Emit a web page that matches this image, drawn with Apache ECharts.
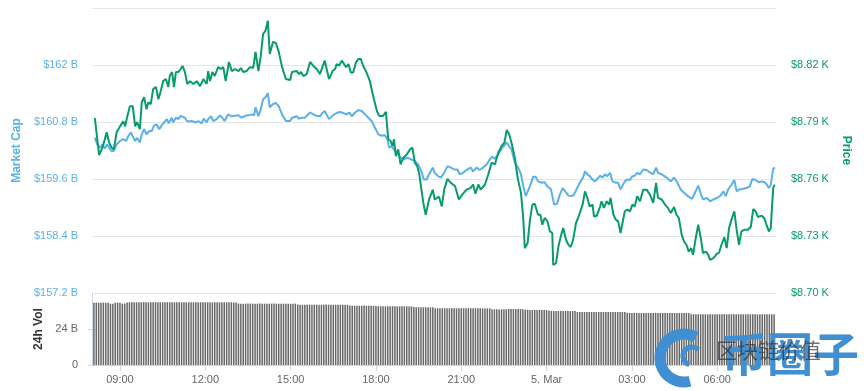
<!DOCTYPE html>
<html>
<head>
<meta charset="utf-8">
<script src="https://cdn.jsdelivr.net/npm/echarts@6/dist/echarts.min.js"></script>
<style>
html,body{margin:0;padding:0;background:#fff;}
#chart{width:864px;height:391px;}
</style>
</head>
<body>
<div id="chart"></div>
<script>
// Time values are minutes since 4 Mar 00:00
var xTickMinutes = [540, 720, 900, 1080, 1260, 1440, 1620, 1800];

var priceTime = [487,496,504,512,517,522,527,533,540,547,551,555,561,567,572,576,582,586,591,596,600,605,610,616,621,626,631,637,642,645,650,654,658,663,668,672,677,682,688,695,702,709,716,723,726,730,735,740,747,753,758,763,770,776,783,790,795,800,807,814,821,826,832,837,842,847,852,856,863,869,875,882,890,899,903,913,918,922,927,934,941,948,955,962,967,972,981,989,994,997,1002,1008,1011,1017,1022,1027,1032,1038,1043,1048,1053,1060,1067,1074,1082,1087,1095,1101,1106,1111,1115,1118,1122,1127,1132,1138,1145,1152,1157,1162,1167,1171,1176,1180,1185,1192,1200,1204,1213,1219,1224,1231,1238,1247,1255,1262,1271,1280,1285,1290,1296,1301,1310,1317,1324,1331,1338,1345,1351,1356,1361,1366,1373,1379,1386,1391,1394,1400,1405,1410,1415,1422,1427,1431,1436,1442,1447,1452,1454,1460,1465,1470,1475,1481,1486,1491,1496,1502,1509,1516,1521,1526,1531,1537,1540,1546,1553,1556,1561,1567,1572,1575,1581,1586,1591,1596,1600,1605,1610,1616,1621,1626,1631,1637,1644,1651,1658,1665,1671,1675,1683,1690,1696,1702,1709,1714,1719,1725,1730,1735,1740,1745,1749,1754,1760,1766,1770,1776,1781,1785,1792,1799,1804,1809,1815,1820,1825,1830,1836,1841,1846,1851,1858,1865,1871,1876,1881,1886,1894,1899,1904,1909,1913,1918,1921];
var price = [8792.0,8772.6,8777.2,8784.6,8779.3,8776.6,8775.6,8784.6,8787.7,8790.4,8787.7,8792.5,8798.3,8798.3,8787.7,8789.9,8786.2,8800.4,8803.1,8796.7,8800.4,8799.4,8807.3,8808.4,8802.0,8806.2,8811.5,8812.6,8808.4,8814.2,8816.3,8808.4,8816.3,8816.3,8817.9,8819.5,8816.3,8810.0,8811.5,8810.0,8811.5,8808.9,8812.6,8810.0,8816.8,8811.5,8816.3,8814.2,8818.9,8817.9,8818.9,8811.5,8821.6,8816.8,8817.9,8816.8,8818.4,8816.3,8816.8,8818.9,8818.4,8826.9,8816.8,8824.7,8836.4,8838.0,8843.3,8825.8,8832.2,8831.6,8826.9,8818.9,8812.6,8812.1,8816.3,8816.8,8815.2,8816.3,8814.2,8815.2,8821.6,8819.5,8817.9,8815.2,8818.9,8822.3,8812.6,8817.0,8817.9,8820.5,8819.6,8822.3,8823.2,8818.8,8820.5,8816.1,8816.1,8821.4,8823.2,8823.2,8819.6,8816.1,8811.7,8803.8,8795.8,8793.2,8793.2,8795.3,8780.9,8780.0,8777.3,8780.9,8772.0,8775.6,8767.7,8771.2,8772.9,8775.6,8776.5,8768.6,8766.8,8763.3,8754.4,8747.4,8741.2,8749.2,8754.4,8749.2,8750.7,8745.6,8754.4,8760.1,8758.0,8756.2,8749.2,8751.8,8754.4,8755.3,8757.1,8752.3,8757.1,8754.4,8757.1,8762.4,8768.6,8767.7,8773.8,8777.3,8779.1,8785.8,8783.5,8779.1,8771.2,8760.6,8752.7,8738.6,8723.6,8726.3,8738.6,8746.5,8747.0,8741.2,8741.2,8735.9,8739.5,8737.7,8732.4,8731.6,8714.8,8715.7,8724.5,8729.8,8734.2,8728.0,8725.4,8724.2,8728.0,8736.8,8741.2,8746.5,8753.5,8750.1,8745.6,8746.5,8740.3,8740.7,8745.6,8748.3,8744.8,8748.3,8746.5,8750.1,8741.2,8738.6,8737.7,8731.6,8731.2,8743.0,8743.9,8743.0,8746.5,8745.6,8750.9,8748.3,8754.4,8754.4,8751.8,8747.4,8758.0,8750.1,8749.2,8746.5,8744.8,8742.1,8745.3,8741.2,8739.5,8730.7,8727.1,8725.4,8721.8,8723.6,8720.1,8728.0,8735.9,8728.0,8721.0,8721.8,8720.1,8717.4,8718.3,8720.6,8721.3,8725.4,8729.4,8723.6,8734.2,8738.6,8743.0,8733.3,8725.4,8732.4,8733.3,8733.3,8735.0,8744.2,8743.0,8740.0,8740.7,8739.5,8735.9,8732.4,8734.2,8755.3,8757.1];

var capTime = [487,492,498,503,508,513,517,522,527,533,540,547,553,558,563,567,572,576,582,586,591,596,602,607,612,617,623,628,633,639,643,649,652,658,663,668,672,677,682,691,700,705,712,717,723,726,732,737,744,751,756,761,768,776,783,790,797,804,811,818,823,826,832,837,842,847,852,856,863,869,875,882,890,899,903,913,918,923,930,941,948,955,962,967,972,981,989,997,1003,1008,1012,1018,1024,1029,1036,1043,1050,1057,1064,1071,1078,1085,1092,1099,1104,1108,1113,1118,1125,1132,1138,1146,1155,1162,1169,1176,1181,1187,1192,1200,1204,1211,1217,1224,1231,1238,1245,1252,1257,1264,1271,1280,1285,1292,1299,1306,1314,1320,1325,1331,1338,1344,1349,1356,1361,1366,1373,1380,1386,1391,1396,1400,1405,1412,1417,1422,1430,1436,1442,1449,1456,1462,1468,1474,1481,1486,1493,1498,1503,1510,1517,1521,1526,1531,1537,1542,1547,1553,1558,1563,1568,1574,1579,1586,1591,1596,1600,1605,1610,1616,1621,1626,1631,1637,1644,1651,1658,1665,1671,1675,1683,1690,1697,1702,1709,1716,1723,1730,1738,1742,1747,1753,1760,1766,1770,1778,1785,1792,1799,1806,1813,1818,1823,1830,1836,1841,1846,1853,1862,1869,1874,1881,1888,1895,1902,1909,1913,1918,1922];
var marketCap = [160.47,160.33,160.26,160.33,160.24,160.33,160.26,160.19,160.19,160.33,160.40,160.44,160.40,160.51,160.58,160.56,160.40,160.47,160.37,160.54,160.65,160.54,160.61,160.61,160.73,160.75,160.65,160.73,160.79,160.86,160.77,160.89,160.79,160.89,160.86,160.93,160.96,160.89,160.81,160.82,160.79,160.82,160.77,160.87,160.79,160.86,160.92,160.82,160.86,160.94,160.89,160.82,160.96,160.92,160.93,160.94,160.89,160.93,160.94,160.96,160.94,161.11,160.92,161.07,161.28,161.32,161.41,161.11,161.18,161.20,161.13,160.96,160.82,160.82,160.89,160.92,160.87,160.89,160.89,161.00,160.96,160.93,160.92,160.99,161.03,160.86,160.94,160.99,161.01,161.00,161.03,160.96,161.00,160.92,161.00,161.05,161.03,160.96,160.89,160.82,160.68,160.54,160.51,160.52,160.44,160.26,160.29,160.22,160.15,160.05,160.01,160.05,160.01,159.98,159.91,159.76,159.59,159.59,159.70,159.84,159.73,159.66,159.63,159.73,159.87,159.84,159.80,159.80,159.70,159.73,159.79,159.84,159.76,159.84,159.79,159.84,159.91,160.01,160.07,160.03,160.12,160.22,160.29,160.37,160.29,160.22,159.94,159.84,159.70,159.45,159.24,159.27,159.45,159.65,159.65,159.55,159.52,159.53,159.44,159.39,159.06,159.08,159.27,159.41,159.32,159.25,159.24,159.27,159.38,159.52,159.63,159.76,159.70,159.66,159.59,159.55,159.60,159.67,159.63,159.70,159.66,159.73,159.55,159.52,159.52,159.38,159.36,159.55,159.59,159.58,159.66,159.67,159.73,159.70,159.80,159.79,159.74,159.70,159.84,159.73,159.70,159.65,159.60,159.55,159.63,159.52,159.38,159.31,159.24,159.24,159.18,159.31,159.46,159.27,159.17,159.20,159.13,159.17,159.20,159.24,159.34,159.24,159.38,159.48,159.58,159.34,159.38,159.39,159.41,159.45,159.60,159.58,159.53,159.55,159.52,159.41,159.48,159.82,159.84];

// 24h volume (billions USD), one bar every 5 minutes starting 08:05
var volStart = 485;
var volStep = 5;
var volume = [
41.5,41.6,41.5,41.5,41.6,41.5,41.5,40.9,40.9,41.5,41.6,41.5,40.9,41.0,41.7,
41.8,41.8,41.9,41.8,41.8,41.8,41.9,41.8,41.8,41.8,41.8,41.9,41.8,41.8,41.8,41.8,41.9,41.8,41.8,41.8,41.8,41.8,41.8,41.9,41.8,41.8,41.8,41.8,41.9,41.8,41.8,41.8,41.8,41.8,41.9,41.8,41.8,41.8,41.8,41.8,41.9,41.8,41.8,41.8,41.7,41.7,
41.0,40.9,40.9,40.9,41.0,40.9,40.9,40.9,40.9,41.0,40.9,40.9,40.9,40.9,40.9,41.0,40.9,40.9,40.9,40.9,40.9,40.9,40.8,40.9,40.9,
40.3,40.2,40.2,40.2,40.2,40.3,40.2,40.2,40.2,40.2,40.2,40.2,40.3,40.2,40.2,40.2,40.2,40.2,40.2,40.1,40.2,40.2,
39.6,39.5,39.5,39.5,39.5,39.5,39.6,39.5,39.5,39.5,39.5,39.4,
39.2,39.1,39.1,39.1,39.1,39.1,39.2,39.1,39.1,39.1,39.1,39.1,39.1,39.0,39.1,
38.6,38.5,38.5,38.5,38.5,38.5,38.5,38.4,38.5,
37.9,37.8,37.8,37.8,37.8,37.8,37.8,37.9,37.8,37.8,37.8,37.8,37.8,37.8,37.9,37.8,37.8,37.8,37.8,37.8,37.8,37.7,37.8,37.8,
37.1,37.1,37.1,37.0,37.1,37.1,37.1,
37.4,37.3,37.3,37.3,37.3,37.3,37.2,
36.8,36.7,36.7,36.7,36.7,36.7,36.7,36.7,36.6,36.7,
36.1,36.0,36.0,36.0,36.0,36.0,36.0,36.0,36.0,35.9,36.0,36.0,
35.4,35.3,35.3,35.3,35.3,35.3,35.3,35.3,35.3,35.3,35.4,35.3,35.3,35.3,35.3,35.3,35.3,35.3,35.3,35.3,35.3,
34.8,34.7,34.7,34.7,34.7,34.7,34.7,34.7,34.7,34.7,34.7,34.7,34.8,34.7,34.7,34.7,34.7,34.7,34.7,34.7,34.7,34.7,34.7,34.6,34.7,34.7,34.7,
33.9,33.8,33.8,33.8,33.8,33.8,33.8,33.8,33.8,33.8,33.8,33.8,33.8,33.8,33.9,33.8,33.8,33.8,33.8,33.8,33.8,33.8,33.8,33.8,33.8,33.8,33.8,33.8,33.7,33.8,33.8,33.8,33.8,33.8,33.8,33.8
];

var capColor = '#5ab1e9';
var priceColor = '#079c6b';
var FONT = '"Liberation Sans", Arial, sans-serif';

function pairs(t, v) { return t.map(function (x, i) { return [x, v[i]]; }); }
var volData = volume.map(function (v, i) { return [volStart + i * volStep, v]; });

function fmtTime(v) {
  if (v === 1440) return '5. Mar';
  var m = ((v % 1440) + 1440) % 1440;
  var h = Math.floor(m / 60), mm = m % 60;
  return (h < 10 ? '0' : '') + h + ':' + (mm < 10 ? '0' : '') + mm;
}

var chart = echarts.init(document.getElementById('chart'), null, {renderer: 'canvas'});
chart.setOption({
  animation: false,
  backgroundColor: '#ffffff',
  textStyle: {fontFamily: FONT},
  grid: [
    {left: 92, right: 88, top: 8, height: 285},
    {left: 92, right: 88, top: 293, height: 72}
  ],
  xAxis: [
    {type: 'value', gridIndex: 0, min: 481, max: 1924,
     axisLine: {show: false}, axisTick: {show: false}, axisLabel: {show: false}, splitLine: {show: false}},
    {type: 'value', gridIndex: 1, min: 481, max: 1924,
     axisLine: {show: true, onZero: false, lineStyle: {color: '#ccd6eb', width: 1}},
     axisTick: {show: true, customValues: xTickMinutes, length: 6, lineStyle: {color: '#ccd6eb'}},
     axisLabel: {show: true, customValues: xTickMinutes, formatter: fmtTime, color: '#666666', fontSize: 11, margin: 9, fontFamily: FONT},
     splitLine: {show: false}}
  ],
  yAxis: [
    {type: 'value', gridIndex: 0, position: 'left', min: 157.2, max: 163.2, interval: 1.2,
     name: 'Market Cap', nameLocation: 'middle', nameGap: 67,
     nameTextStyle: {color: capColor, fontWeight: 'bold', fontSize: 12, fontFamily: FONT},
     axisLine: {show: false}, axisTick: {show: false},
     axisLabel: {color: capColor, fontSize: 11, margin: 14, showMaxLabel: false, fontFamily: FONT,
       formatter: function (v) { return '$' + (Math.round(v * 10) / 10) + ' B'; }},
     splitLine: {show: true, lineStyle: {color: '#e6e6e6', width: 1}}},
    {type: 'value', gridIndex: 0, position: 'right', min: 8700, max: 8850, interval: 30,
     name: 'Price', nameLocation: 'middle', nameGap: 62, nameRotate: -90,
     nameTextStyle: {color: priceColor, fontWeight: 'bold', fontSize: 12, fontFamily: FONT},
     axisLine: {show: false}, axisTick: {show: false},
     axisLabel: {color: priceColor, fontSize: 11, margin: 15, showMaxLabel: false, fontFamily: FONT,
       formatter: function (v) { return '$' + (v / 1000).toFixed(2) + ' K'; }},
     splitLine: {show: false}},
    {type: 'value', gridIndex: 1, position: 'left', min: 0, max: 48, interval: 24,
     name: '24h Vol', nameLocation: 'middle', nameGap: 47,
     nameTextStyle: {color: '#333333', fontWeight: 'bold', fontSize: 12, fontFamily: FONT},
     axisLine: {show: true, lineStyle: {color: '#ccd6eb', width: 1}},
     axisTick: {show: true, length: 4, lineStyle: {color: '#ccd6eb'}},
     axisLabel: {color: '#666666', fontSize: 11, margin: 14, showMaxLabel: false, fontFamily: FONT,
       formatter: function (v) { return v === 0 ? '0' : v + ' B'; }},
     splitLine: {show: false}}
  ],
  series: [
    {type: 'bar', name: '24h Vol', xAxisIndex: 1, yAxisIndex: 2, data: volData,
     barWidth: 1.5, itemStyle: {color: '#676767'}, silent: true},
    {type: 'line', name: 'Market Cap', xAxisIndex: 0, yAxisIndex: 0, data: pairs(capTime, marketCap),
     showSymbol: false, symbol: 'none', lineStyle: {color: capColor, width: 2}, itemStyle: {color: capColor}, z: 3},
    {type: 'line', name: 'Price', xAxisIndex: 0, yAxisIndex: 1, data: pairs(priceTime, price),
     showSymbol: false, symbol: 'none', lineStyle: {color: priceColor, width: 2}, itemStyle: {color: priceColor}, z: 4}
  ],
  graphic: [
    {type: 'arc', shape: {cx: 684, cy: 358, r: 24, startAngle: -Math.PI / 3, endAngle: Math.PI * 0.42, clockwise: false},
     style: {stroke: '#3f8fd2', lineWidth: 11, fill: null}, z: 100},
    {type: 'arc', shape: {cx: 692, cy: 356, r: 9, startAngle: -Math.PI / 4, endAngle: Math.PI * 0.6, clockwise: false},
     style: {stroke: '#3f8fd2', lineWidth: 5, fill: null}, z: 100},
    {type: 'text', left: 721, top: 331, z: 100,
     style: {text: '币圈子', fill: '#3f8fd2', font: 'bold 46px "Noto Sans CJK SC", sans-serif'}},
    {type: 'text', left: 716, top: 340, z: 101,
     style: {text: '区块链价值', fill: 'rgba(50,50,50,0.7)', font: '21px "Noto Sans CJK SC", sans-serif'}}
  ]
});
</script>
</body>
</html>
